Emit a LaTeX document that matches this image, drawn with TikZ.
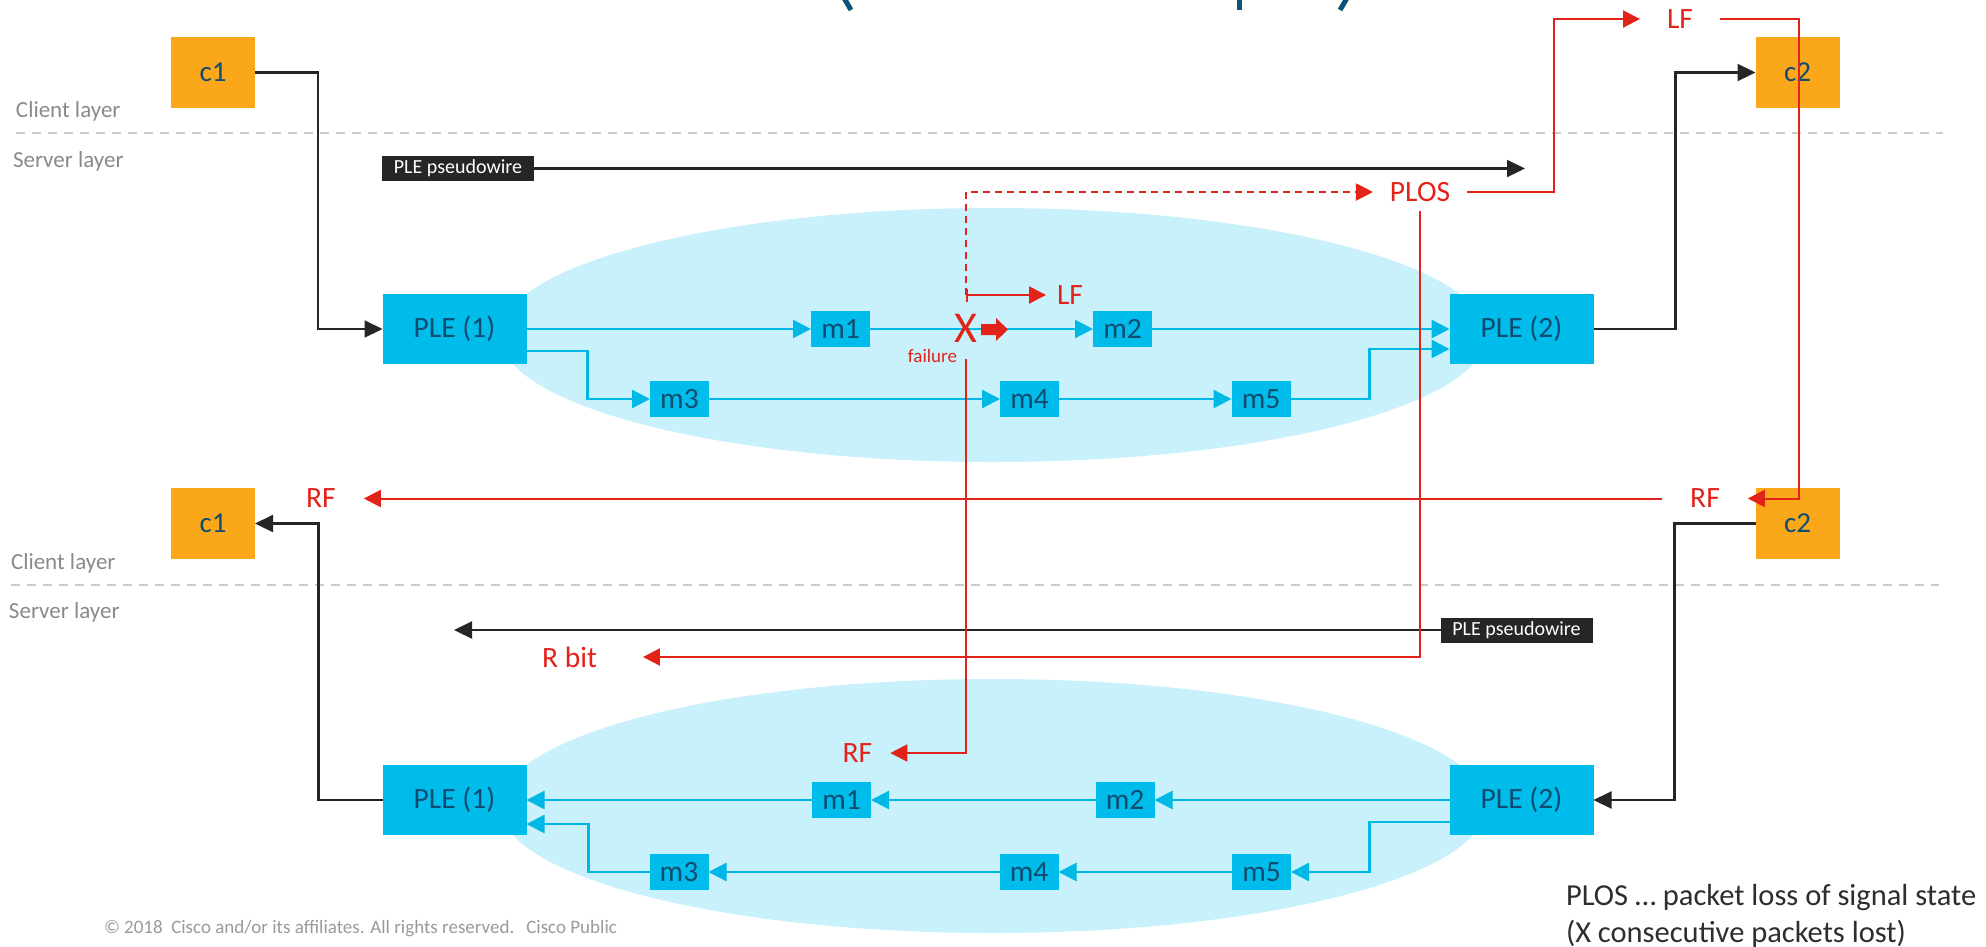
\documentclass[tikz,border=0pt]{standalone}
\usepackage{fontspec}
\setmainfont{Carlito}
\usetikzlibrary{arrows.meta,calc}
\definecolor{orangebox}{HTML}{FAA819}
\definecolor{cyanbox}{HTML}{00BCEB}
\definecolor{cyanline}{HTML}{00B8E6}
\definecolor{ellfill}{HTML}{C8F1FC}
\definecolor{redc}{HTML}{E2231A}
\definecolor{blk}{HTML}{262626}
\definecolor{grayline}{HTML}{CCCCCC}
\definecolor{graytext}{HTML}{8A8A8A}
\definecolor{txtblue}{HTML}{0F4C70}
\definecolor{legendtext}{HTML}{2E2E2E}
\definecolor{copytext}{HTML}{9A9A9A}
\definecolor{titleblue}{HTML}{0B5378}
\begin{document}
\begin{tikzpicture}[x=1pt,y=-1pt,
  every node/.style={inner sep=0pt, outer sep=0pt},
  clientbox/.style={fill=orangebox, minimum width=84pt, minimum height=71pt, text=txtblue, font=\fontsize{29}{29}\selectfont},
  plebox/.style={fill=cyanbox, minimum width=144pt, minimum height=70pt, text=txtblue, font=\fontsize{29.5}{29.5}\selectfont},
  mbox/.style={fill=cyanbox, minimum width=59pt, minimum height=36pt, text=txtblue, font=\fontsize{29.5}{29.5}\selectfont},
  pwbox/.style={fill=blk, minimum width=152pt, minimum height=25pt, text=white, font=\fontsize{20}{20}\selectfont},
  redlbl/.style={text=redc, font=\fontsize{29.5}{29.5}\selectfont},
  layertxt/.style={text=graytext, font=\fontsize{23}{23}\selectfont, anchor=base west},
  layerline/.style={grayline, line width=2.5pt, dash pattern=on 9pt off 7pt},
  blkarrow/.style={blk, line width=2.2pt, -{Triangle[length=18pt,width=17pt]}},
  cyarrow/.style={cyanline, line width=2.5pt, -{Triangle[length=18pt,width=18pt]}},
  redarrow/.style={redc, line width=2pt, -{Triangle[length=17pt,width=17pt]}},
  redbar/.style={redc, line width=2pt, {Bar[width=13pt]}-{Triangle[length=17pt,width=17pt]}},
  reddash/.style={redc, line width=2pt, dash pattern=on 7pt off 5pt, -{Triangle[length=17pt,width=17pt]}},
]
\useasboundingbox (0,0) rectangle (1986,946);
\fill[white] (0,0) rectangle (1986,946);

% title fragments (cut-off title)
\draw[titleblue, line width=5pt] (844,-2) -- (851,10);
\draw[titleblue, line width=5pt] (1239,-2) -- (1239,10);
\draw[titleblue, line width=5pt] (1347,-2) -- (1340,10);

% clouds
\fill[ellfill] (993,335) ellipse [x radius=493pt, y radius=127pt];
\fill[ellfill] (993,806) ellipse [x radius=493pt, y radius=127pt];

% layer separators
\draw[layerline] (16,133) -- (1943,133);
\draw[layerline] (11,585) -- (1939,585);
\node[layertxt] (cl1) at (16,117) {Client layer};
\node[layertxt] (sl1) at (13,167) {Server layer};
\node[layertxt] (cl2) at (11,569) {Client layer};
\node[layertxt] (sl2) at (9,618) {Server layer};

% ---------- top scenario ----------
\node[clientbox] (c1t) at (213,72.5) {c1};
\node[clientbox] (c2t) at (1797.5,72.5) {c2};
\node[plebox] (ple1t) at (454.5,329) {PLE (1)};
\node[plebox] (ple2t) at (1521.5,329) {PLE (2)};
\node[mbox] (m1t) at (840.5,329) {m1};
\node[mbox] (m2t) at (1122.5,329) {m2};
\node[mbox] (m3t) at (679.5,399) {m3};
\node[mbox] (m4t) at (1029.5,399) {m4};
\node[mbox] (m5t) at (1261,399) {m5};
\node[pwbox] (pw1) at (458,168.5) {PLE pseudowire};
\coordinate (pw1end) at (1525,168.5);

\draw[blkarrow] (c1t.east) -- ++(63,0) |- (ple1t.west);
\draw[blkarrow] (ple2t.east) -- ++(82,0) |- (c2t.west);
\draw[blkarrow] (pw1.east) -- (pw1end);

\draw[cyarrow] (ple1t.east) -- (m1t.west);
\draw[cyarrow] (m1t.east) -- (m2t.west);
\draw[cyarrow] (m2t.east) -- (ple2t.west);
\draw[cyarrow] ([yshift=-22pt]ple1t.east) -- ++(61,0) |- (m3t.west);
\draw[cyarrow] (m3t.east) -- (m4t.west);
\draw[cyarrow] (m4t.east) -- (m5t.west);
\draw[cyarrow] (m5t.east) -- ++(79,0) |- ([yshift=-20pt]ple2t.west);

% ---------- bottom scenario ----------
\node[clientbox] (c1b) at (213,523.5) {c1};
\node[clientbox] (c2b) at (1797.5,523.5) {c2};
\node[plebox] (ple1b) at (454.5,800) {PLE (1)};
\node[plebox] (ple2b) at (1521.5,800) {PLE (2)};
\node[mbox] (m1b) at (841.5,800) {m1};
\node[mbox] (m2b) at (1125,800) {m2};
\node[mbox] (m3b) at (679,872) {m3};
\node[mbox] (m4b) at (1029,872) {m4};
\node[mbox] (m5b) at (1261.5,872) {m5};
\node[pwbox] (pw2) at (1516.5,630) {PLE pseudowire};
\coordinate (pw2end) at (454,630);

\draw[cyarrow] (ple2b.west) -- (m2b.east);
\draw[cyarrow] (m2b.west) -- (m1b.east);
\draw[cyarrow] (m1b.west) -- (ple1b.east);
\draw[cyarrow] ([yshift=-22pt]ple2b.west) -- ++(-80,0) |- (m5b.east);
\draw[cyarrow] (m5b.west) -- (m4b.east);
\draw[cyarrow] (m4b.west) -- (m3b.east);
\draw[cyarrow] (m3b.west) -- ++(-61,0) |- ([yshift=-24pt]ple1b.east);
\draw[blkarrow] (ple1b.west) -- ++(-64,0) |- (c1b.east);
\draw[blkarrow] (c2b.west) -- ++(-81,0) |- (ple2b.east);
\draw[blkarrow] (pw2.west) -- (pw2end);

% ---------- failure signalling (red) ----------
\node[text=redc, font=\fontsize{44}{44}\selectfont] (xmark) at (966,328) {X};
\fill[redc] (981,324) -- (996,324) -- (996,318) -- (1008,329.5) -- (996,341) -- (996,335) -- (981,335) -- cycle;
\node[text=redc, font=\fontsize{19}{19}\selectfont] (failure) at (932.5,356) {failure};

\node[redlbl, inner xsep=11pt] (lfs) at (1070,295) {LF};
\node[redlbl, inner xsep=17pt, inner ysep=9.5pt] (plos) at (1420,192) {PLOS};
\node[redlbl, inner xsep=27pt] (lft) at (1680,19) {LF};
\node[redlbl, inner xsep=28pt] (rfr) at (1705,498.5) {RF};
\node[redlbl, inner xsep=28pt] (rfl) at (321,498.5) {RF};
\node[redlbl, inner xsep=46pt] (rbit) at (569.5,657) {R bit};
\node[redlbl, inner xsep=18pt] (rfb) at (857.5,753) {RF};

\coordinate (lfstart) at (966,295);
\coordinate (fbreak) at (966,359);
\coordinate (bendA) at (1554,19);
\coordinate (bendB) at (1799,19);

\draw[reddash] (lfstart) |- (plos.west);
\draw[redbar] (lfstart) -- (lfs.west);
\draw[redarrow] (plos.east) -| (bendA) -- (lft.west);
\draw[redarrow] (lft.east) -- (bendB) |- (rfr.east);
\draw[redarrow] (rfr.west) -- (rfl.east);
\draw[redarrow] (plos.south) |- (rbit.east);
\draw[redarrow] (fbreak) |- (rfb.east);

% ---------- footer ----------
\node[anchor=base west, text=legendtext, font=\fontsize{30.5}{30.5}\selectfont] (leg1) at (1566,905) {PLOS … packet loss of signal state};
\node[anchor=base west, text=legendtext, font=\fontsize{30.5}{30.5}\selectfont] (leg2) at (1566,942) {(X consecutive packets lost)};
\node[anchor=base west, text=copytext, font=\fontsize{19}{19}\selectfont] (copy) at (104,933) {© 2018\ \ Cisco and/or its affiliates. All rights reserved.\hspace{12pt}Cisco Public};
\end{tikzpicture}
\end{document}
